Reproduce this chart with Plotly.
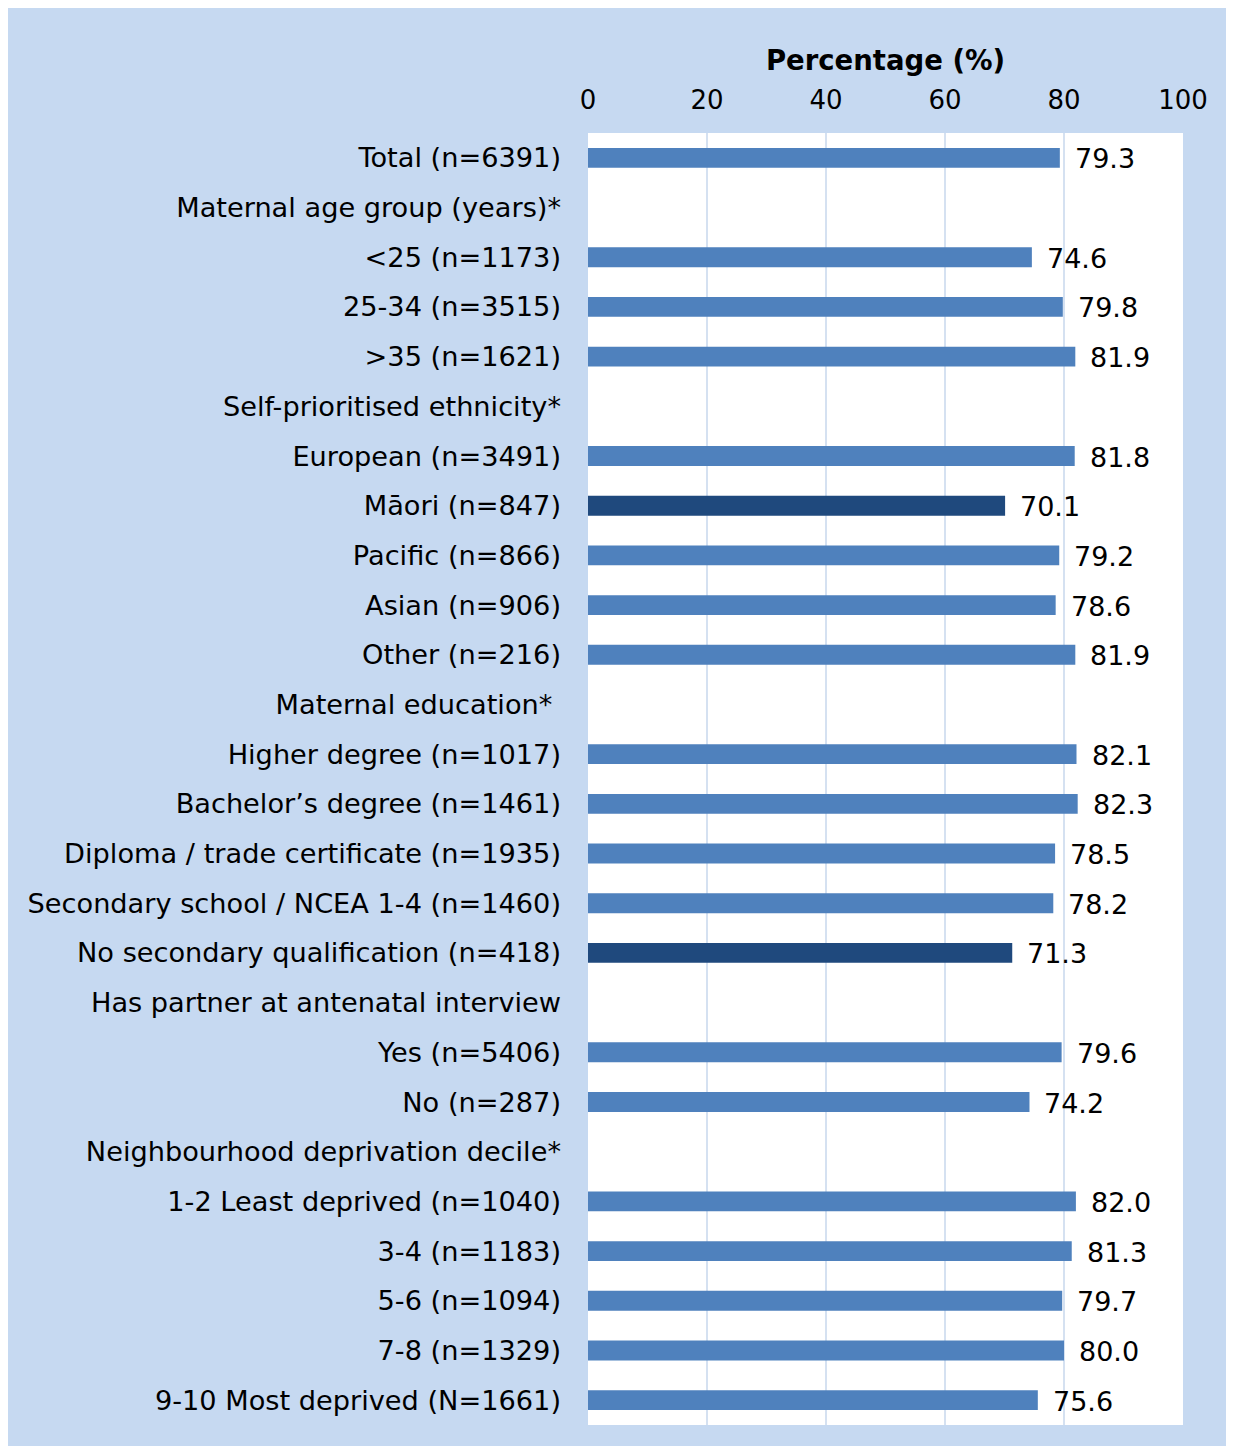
import plotly.graph_objects as go

categories = [
    "Total (n=6391)",
    "Maternal age group (years)*",
    "<25 (n=1173)",
    "25-34 (n=3515)",
    ">35 (n=1621)",
    "Self-prioritised ethnicity*",
    "European (n=3491)",
    "Māori (n=847)",
    "Pacific (n=866)",
    "Asian (n=906)",
    "Other (n=216)",
    "Maternal education* ",
    "Higher degree (n=1017)",
    "Bachelor’s degree (n=1461)",
    "Diploma / trade certificate (n=1935)",
    "Secondary school / NCEA 1-4 (n=1460)",
    "No secondary qualification (n=418)",
    "Has partner at antenatal interview",
    "Yes (n=5406)",
    "No (n=287)",
    "Neighbourhood deprivation decile*",
    "1-2 Least deprived (n=1040)",
    "3-4 (n=1183)",
    "5-6 (n=1094)",
    "7-8 (n=1329)",
    "9-10 Most deprived (N=1661)",
]
values = [79.3, None, 74.6, 79.8, 81.9, None, 81.8, 70.1, 79.2, 78.6, 81.9,
          None, 82.1, 82.3, 78.5, 78.2, 71.3, None, 79.6, 74.2, None,
          82.0, 81.3, 79.7, 80.0, 75.6]
highlight = ["Māori (n=847)", "No secondary qualification (n=418)"]

BASE = "#4F81BD"
DARK = "#1F497D"
BG = "#C6D9F1"
FONT = "DejaVu Sans"
FS_LABEL = 27.2
FS_TICK = 26
FS_VAL = 27
FS_TITLE = 27.5

colors = [DARK if c in highlight else BASE for c in categories]

fig = go.Figure()
fig.add_trace(go.Bar(
    x=values, y=categories, orientation="h",
    marker=dict(color=colors, line=dict(width=0)),
    width=0.4, hoverinfo="x+y",
))

for c, v in zip(categories, values):
    if v is not None:
        fig.add_annotation(x=v, y=c, text=f"{v:.1f}", showarrow=False,
                           xanchor="left", xshift=13, yshift=-1,
                           font=dict(family=FONT, size=FS_VAL, color="#000000"))

# page has an 8px body margin; figure sized to fill the rest
W, H = 1226, 1438
L, T = 580, 125
pw, ph = 595, 1292
R, B = W - L - pw, H - T - ph

fig.update_layout(
    width=W, height=H,
    margin=dict(l=L, r=R, t=T, b=B, pad=0),
    paper_bgcolor=BG, plot_bgcolor="white",
    showlegend=False,
    font=dict(family=FONT, size=FS_TICK, color="#000000"),
    xaxis=dict(
        side="top", range=[0, 100], dtick=20, tick0=0,
        showgrid=True, gridcolor="#D5E1F1", gridwidth=1.5,
        zeroline=False, showline=False, ticks="",
        tickfont=dict(family=FONT, size=FS_TICK),
        ticklabelstandoff=18,
        title=dict(text="<b>Percentage (%)</b>", font=dict(family=FONT, size=FS_TITLE), standoff=6),
        fixedrange=True,
    ),
    yaxis=dict(
        autorange="reversed", showgrid=False, showline=False, ticks="",
        tickfont=dict(family=FONT, size=FS_LABEL),
        ticklabelstandoff=26, fixedrange=True,
    ),
)

fig.write_html("out.html")
